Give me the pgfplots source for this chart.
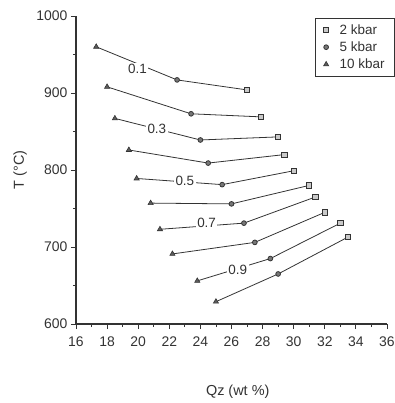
\documentclass[border=0pt]{standalone}
\usepackage{pgfplots}
\pgfplotsset{compat=1.18}
\usepackage{fontspec}
\setmainfont{Liberation Sans}
\definecolor{ln}{HTML}{333333}
\definecolor{mk}{HTML}{777777}
\begin{document}
\begin{tikzpicture}
\begin{axis}[
  at={(0,0)}, anchor=south west,
  scale only axis, width=311bp, height=308bp,
  xmin=16, xmax=36, ymin=600, ymax=1000,
  axis lines=left, axis line style={ln, line width=1.1pt, -},
  xtick={16,18,...,36}, ytick={600,700,800,900,1000},
  minor xtick={17,19,...,35}, minor ytick={650,750,850,950},
  tick align=outside, major tick length=5bp, minor tick length=3bp,
  tick style={ln, line width=0.9pt},
  /pgf/number format/assume math mode=true,
  /pgf/number format/1000 sep={},
  ticklabel style={font=\fontsize{14}{16}\selectfont, text=ln},
  xticklabel style={yshift=-4bp},
  xlabel={Qz (wt \%)}, ylabel={T (°C)},
  label style={font=\fontsize{14.5}{17}\selectfont, text=ln},
  xlabel style={at={(axis description cs:0.52,-0.22)}, anchor=center},
  ylabel style={at={(axis description cs:-0.18,0.5)}, anchor=center},
  legend style={at={(1.026,0.994)}, anchor=north east, draw=ln, line width=1pt,
    font=\fontsize{13.5}{15}\selectfont, text=ln, row sep=2bp, inner xsep=8bp, inner ysep=4bp,
    /tikz/column sep=9bp},
  legend cell align=left,
  clip=false,
]
% lines (10 kbar -> 5 kbar -> 2 kbar) for a(H2O) = 0.1 ... 1.0
\pgfplotsset{every axis plot/.append style={line width=0.8pt}}
\addplot[ln, no marks, forget plot] coordinates {(17.3,960) (22.5,917) (27.0,904)};
\addplot[ln, no marks, forget plot] coordinates {(18.0,908) (23.4,873) (27.9,869)};
\addplot[ln, no marks, forget plot] coordinates {(18.5,867) (24.0,839) (29.0,843)};
\addplot[ln, no marks, forget plot] coordinates {(19.4,826) (24.5,809) (29.4,820)};
\addplot[ln, no marks, forget plot] coordinates {(19.9,789) (25.4,781) (30.0,799)};
\addplot[ln, no marks, forget plot] coordinates {(20.8,757) (26.0,756) (31.0,780)};
\addplot[ln, no marks, forget plot] coordinates {(21.4,723) (26.8,731) (31.4,765)};
\addplot[ln, no marks, forget plot] coordinates {(22.2,691) (27.5,706) (32.0,745)};
\addplot[ln, no marks, forget plot] coordinates {(23.8,656) (28.5,685) (33.0,731)};
\addplot[ln, no marks, forget plot] coordinates {(25.0,629) (29.0,665) (33.5,713)};
% labels
\begin{scope}[every node/.style={fill=white, inner sep=1.5bp, font=\fontsize{13.5}{15}\selectfont, text=ln}]
\node at (axis cs:19.95,931) {0.1};
\node at (axis cs:21.2,854) {0.3};
\node at (axis cs:23.0,786) {0.5};
\node at (axis cs:24.4,731) {0.7};
\node at (axis cs:26.4,670) {0.9};
\end{scope}
% markers
\addplot[only marks, mark=square*, mark size=2.6pt, mark options={fill=mk!40, draw=ln, line width=0.8pt}] coordinates {
(27.0,904) (27.9,869) (29.0,843) (29.4,820) (30.0,799) (31.0,780) (31.4,765) (32.0,745) (33.0,731) (33.5,713)};
\addlegendentry{2 kbar}
\addplot[only marks, mark=*, mark size=2.4pt, mark options={fill=mk, draw=ln, line width=0.8pt}] coordinates {
(22.5,917) (23.4,873) (24.0,839) (24.5,809) (25.4,781) (26.0,756) (26.8,731) (27.5,706) (28.5,685) (29.0,665)};
\addlegendentry{5 kbar}
\addplot[only marks, mark=triangle*, mark size=3pt, mark options={fill=ln!80, draw=ln, line width=0.6pt}] coordinates {
(17.3,960) (18.0,908) (18.5,867) (19.4,826) (19.9,789) (20.8,757) (21.4,723) (22.2,691) (23.8,656) (25.0,629)};
\addlegendentry{10 kbar}
\end{axis}
\pgfresetboundingbox
\path[use as bounding box] (-76bp,-79bp) rectangle (319bp,324bp);
\end{tikzpicture}
\end{document}
